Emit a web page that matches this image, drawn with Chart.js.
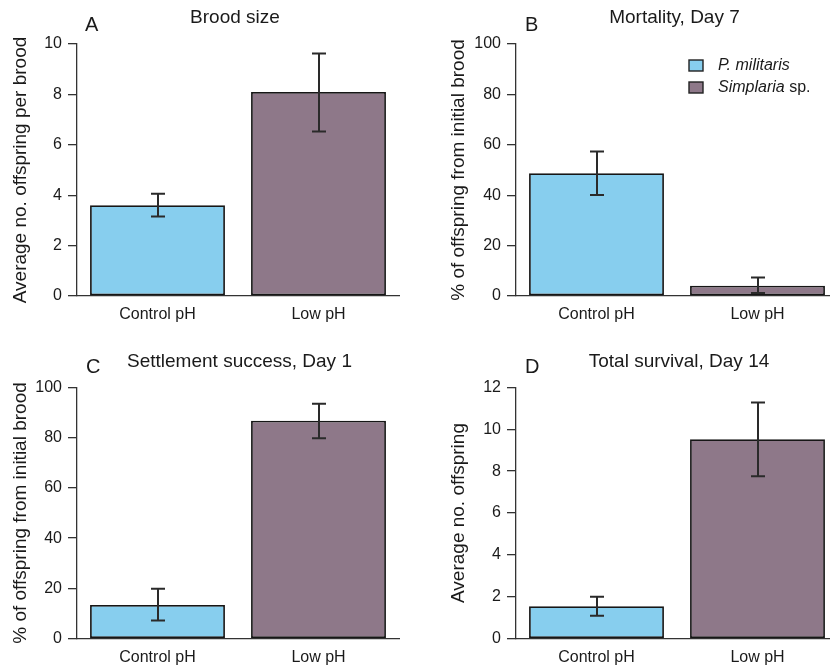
<!DOCTYPE html>
<html><head><meta charset="utf-8">
<script src="https://cdn.jsdelivr.net/npm/chart.js@4.4.1/dist/chart.umd.min.js"></script>
<style>
html,body{margin:0;padding:0;background:#fff;width:830px;height:669px;overflow:hidden;position:relative}
canvas{position:absolute;display:block}
</style></head><body>
<canvas id="cA" width="415" height="330" style="left:0px;top:0px;width:415px;height:330px"></canvas>
<canvas id="cB" width="425" height="330" style="left:415px;top:0px;width:425px;height:330px"></canvas>
<canvas id="cC" width="415" height="339" style="left:0px;top:330px;width:415px;height:339px"></canvas>
<canvas id="cD" width="425" height="339" style="left:415px;top:330px;width:425px;height:339px"></canvas>
<script>
// ---------- data ----------
const categories = ['Control pH', 'Low pH'];
const speciesLabels = ['P. militaris', 'Simplaria'];
const speciesSuffix = ['', ' sp.'];
const barColors = ['#87CEEE', '#8E7889'];

const broodSize = [3.6, 8.1];
const broodSizeLow = [3.15, 6.53];
const broodSizeHigh = [4.06, 9.62];

const mortalityDay7 = [48.7, 4.1];
const mortalityDay7Low = [40.1, 1.2];
const mortalityDay7High = [57.3, 7.3];

const settlementDay1 = [13.4, 86.7];
const settlementDay1Low = [7.2, 79.7];
const settlementDay1High = [19.9, 93.5];

const survivalDay14 = [1.55, 9.52];
const survivalDay14Low = [1.1, 7.75];
const survivalDay14High = [2.0, 11.28];

const ticksA = [0, 2, 4, 6, 8, 10];
const ticksB = [0, 20, 40, 60, 80, 100];
const ticksC = [0, 20, 40, 60, 80, 100];
const ticksD = [0, 2, 4, 6, 8, 10, 12];

// ---------- layout ----------
const FONT = "'Liberation Sans', Arial, Helvetica, sans-serif";
const panels = [
  {canvas:'cA', letter:'A', title:'Brood size', yTitle:'Average no. offspring per brood',
   values:broodSize, low:broodSizeLow, high:broodSizeHigh, ticks:ticksA,
   w:415, h:330, left:77, right:399, top:44, bottom:296, yTitleX:20.5,
   titleX:235, titleY:23, letterX:85, letterY:31, legend:false},
  {canvas:'cB', letter:'B', title:'Mortality, Day 7', yTitle:'% of offspring from initial brood',
   values:mortalityDay7, low:mortalityDay7Low, high:mortalityDay7High, ticks:ticksB,
   w:425, h:330, left:101, right:423, top:44, bottom:296, yTitleX:43.5,
   titleX:259.5, titleY:23, letterX:110, letterY:31, legend:true},
  {canvas:'cC', letter:'C', title:'Settlement success, Day 1', yTitle:'% of offspring from initial brood',
   values:settlementDay1, low:settlementDay1Low, high:settlementDay1High, ticks:ticksC,
   w:415, h:339, left:77, right:399, top:57.3, bottom:308.7, yTitleX:20.5,
   titleX:239.5, titleY:37, letterX:86, letterY:43, legend:false},
  {canvas:'cD', letter:'D', title:'Total survival, Day 14', yTitle:'Average no. offspring',
   values:survivalDay14, low:survivalDay14Low, high:survivalDay14High, ticks:ticksD,
   w:425, h:339, left:101, right:423, top:57.3, bottom:308.7, yTitleX:44,
   titleX:264, titleY:37, letterX:110, letterY:43, legend:false}
];

const errorBarPlugin = {
  id: 'errorBars',
  afterDatasetsDraw(chart) {
    const ctx = chart.ctx;
    const ds = chart.data.datasets[0];
    const meta = chart.getDatasetMeta(0);
    const ys = chart.scales.y;
    ctx.save();
    ctx.strokeStyle = '#2a2a2a';
    ctx.lineWidth = 2;
    meta.data.forEach((bar, i) => {
      const x = Math.round(bar.x);
      const yt = ys.getPixelForValue(ds.errHigh[i]);
      const yb = ys.getPixelForValue(ds.errLow[i]);
      const cap = 7;
      ctx.beginPath();
      ctx.moveTo(x, yt); ctx.lineTo(x, yb);
      ctx.moveTo(x - cap, yt); ctx.lineTo(x + cap, yt);
      ctx.moveTo(x - cap, yb); ctx.lineTo(x + cap, yb);
      ctx.stroke();
    });
    ctx.restore();
  }
};

function makeLabelPlugin(p) {
  return {
    id: 'panelLabels',
    afterDraw(chart) {
      const ctx = chart.ctx;
      ctx.save();
      ctx.fillStyle = '#1a1a1a';
      ctx.textBaseline = 'alphabetic';
      ctx.font = '19px ' + FONT;
      ctx.textAlign = 'center';
      ctx.fillText(p.title, p.titleX, p.titleY);
      ctx.textAlign = 'left';
      ctx.font = '20px ' + FONT;
      ctx.fillText(p.letter, p.letterX, p.letterY);
      if (p.legend) {
        const boxX = 274, boxW = 14, boxH = 11;
        const rowsY = [60, 82];
        const textX = 303;
        speciesLabels.forEach((lab, i) => {
          ctx.fillStyle = barColors[i];
          ctx.fillRect(boxX, rowsY[i], boxW, boxH);
          ctx.strokeStyle = '#222';
          ctx.lineWidth = 1.4;
          ctx.strokeRect(boxX, rowsY[i], boxW, boxH);
          ctx.fillStyle = '#1a1a1a';
          ctx.font = 'italic 16px ' + FONT;
          const by = rowsY[i] + 10;
          ctx.fillText(lab, textX, by);
          const wItal = ctx.measureText(lab).width;
          if (speciesSuffix[i]) {
            ctx.font = '16px ' + FONT;
            ctx.fillText(speciesSuffix[i], textX + wItal, by);
          }
        });
      }
      ctx.restore();
    }
  };
}

panels.forEach(p => {
  const ctx = document.getElementById(p.canvas).getContext('2d');
  new Chart(ctx, {
    type: 'bar',
    data: {
      labels: categories,
      datasets: [{
        data: p.values,
        errLow: p.low,
        errHigh: p.high,
        backgroundColor: barColors,
        borderColor: '#161616',
        borderWidth: 1.8,
        borderSkipped: false,
        categoryPercentage: 1.0,
        barPercentage: 0.838
      }]
    },
    options: {
      responsive: false,
      animation: false,
      devicePixelRatio: 1,
      layout: { padding: { left: 0, top: p.top, right: p.w - p.right, bottom: 0 } },
      plugins: { legend: { display: false }, title: { display: false }, tooltip: { enabled: false } },
      scales: {
        x: {
          grid: { display: false, drawTicks: false },
          border: { display: true, color: '#333', width: 1.3 },
          ticks: { color: '#1a1a1a', font: { family: FONT, size: 16 }, padding: 9 },
          afterFit: s => { s.height = p.h - p.bottom; }
        },
        y: {
          min: p.ticks[0],
          max: p.ticks[p.ticks.length - 1],
          afterBuildTicks: s => { s.ticks = p.ticks.map(v => ({ value: v })); },
          grid: { display: true, drawOnChartArea: false, drawTicks: true, tickLength: 9, color: '#333', lineWidth: 1.3 },
          border: { display: true, color: '#333', width: 1.3 },
          ticks: { color: '#1a1a1a', font: { family: FONT, size: 16 }, padding: 6 },
          title: { display: true, text: p.yTitle, color: '#1a1a1a', font: { family: FONT, size: 19 },
                   padding: { top: p.yTitleX - 11.4, bottom: 0 } },
          afterFit: s => { s.width = p.left; }
        }
      }
    },
    plugins: [errorBarPlugin, makeLabelPlugin(p)]
  });
});
</script>
</body></html>
